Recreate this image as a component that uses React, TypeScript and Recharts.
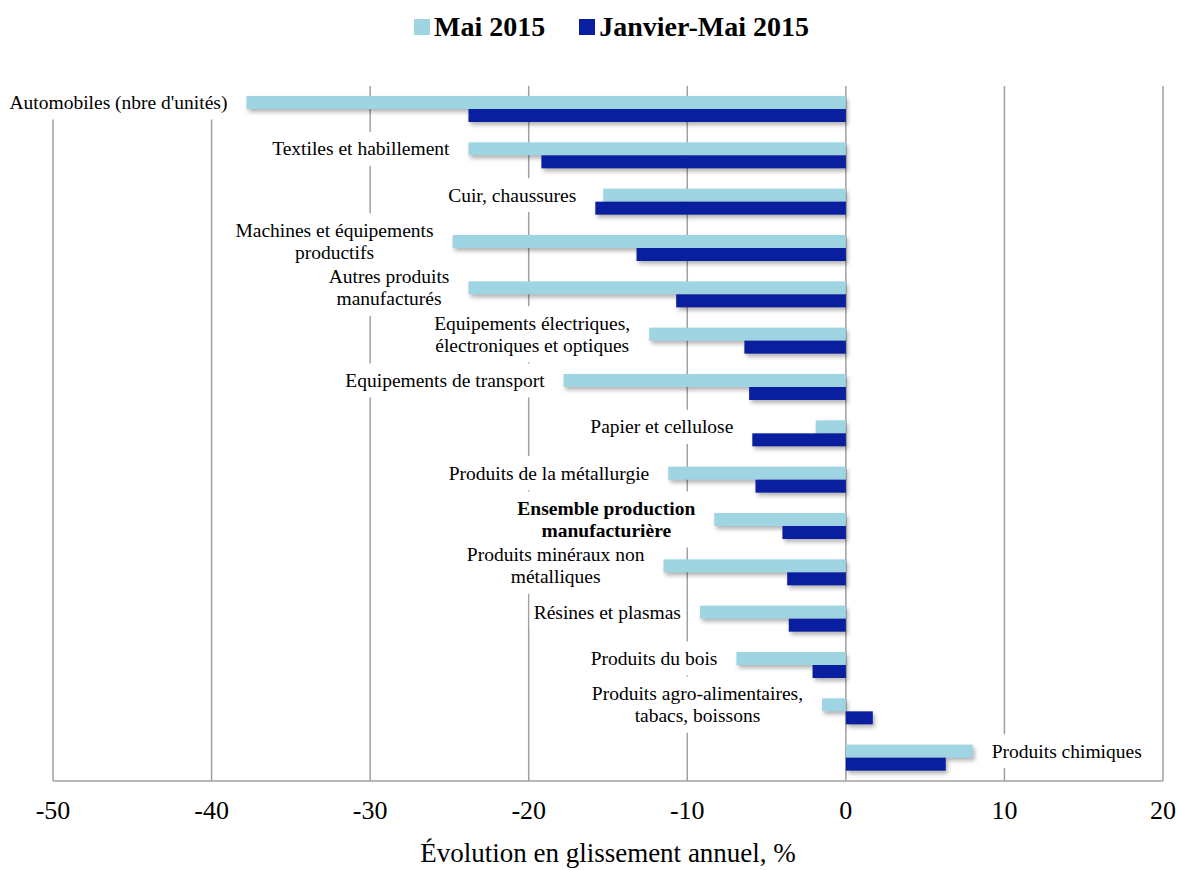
import React from "react";
import { BarChart, Bar, XAxis, YAxis, CartesianGrid, LabelList, Label } from "recharts";

const categories = [
  "Automobiles (nbre d'unités)",
  "Textiles et habillement",
  "Cuir, chaussures",
  "Machines et équipements\nproductifs",
  "Autres produits\nmanufacturés",
  "Equipements électriques,\nélectroniques et optiques",
  "Equipements de transport",
  "Papier et cellulose",
  "Produits de la métallurgie",
  "Ensemble production\nmanufacturière",
  "Produits minéraux non\nmétalliques",
  "Résines et plasmas",
  "Produits du bois",
  "Produits agro-alimentaires,\ntabacs, boissons",
  "Produits chimiques",
];
const maiValues = [-37.8, -23.8, -15.3, -24.8, -23.8, -12.4, -17.8, -1.9, -11.2, -8.3, -11.5, -9.2, -6.9, -1.5, 8.0];
const janMaiValues = [-23.8, -19.2, -15.8, -13.2, -10.7, -6.4, -6.1, -5.9, -5.7, -4.0, -3.7, -3.6, -2.1, 1.7, 6.3];
const xTicks = [-50, -40, -30, -20, -10, 0, 10, 20];
const boldCategory = "Ensemble production\nmanufacturière";

const data = categories.map((name, i) => ({ name, mai: maiValues[i], janMai: janMaiValues[i] }));

const FONT = '"Liberation Serif", "DejaVu Serif", serif';
const LIGHT = "#9fd5e3";
const DARK = "#0a1f9f";
const LABEL_SIZE = 19.5;
const LINE_H = 22;
const GAP = 19;

let ctx: CanvasRenderingContext2D | null = null;
const measure = (text: string, bold: boolean) => {
  if (!ctx) ctx = document.createElement("canvas").getContext("2d");
  if (!ctx) return text.length * 8;
  ctx.font = `${bold ? "bold " : ""}${LABEL_SIZE}px ${FONT}`;
  return ctx.measureText(text).width;
};

// category name drawn next to the end of the longest bar of its row
const CategoryLabel = (props: any) => {
  const { viewBox, value } = props;
  const row = data.find((d) => d.name === value);
  if (!row || !viewBox) return null;
  const { x, y, width, height } = viewBox;
  const x0 = Math.min(x, x + width);
  const x1 = Math.max(x, x + width);
  const zero = row.mai < 0 ? x1 : x0;
  const pxPerUnit = Math.abs(width) / Math.abs(row.mai);
  const lo = Math.min(0, row.mai, row.janMai);
  const hi = Math.max(0, row.mai, row.janMai);
  const leftSide = lo < 0;
  const bold = row.name === boldCategory;
  const lines = row.name.split("\n");
  const maxW = Math.max(...lines.map((l) => measure(l, bold)));
  const edge = leftSide ? zero + lo * pxPerUnit - GAP : zero + hi * pxPerUnit + GAP;
  const cx = leftSide ? edge - maxW / 2 : edge + maxW / 2;
  const cy = y + height / 2;
  const n = lines.length;
  return (
    <g>
      <rect x={cx - maxW / 2 - 4} y={cy - (n * LINE_H) / 2 - 6} width={maxW + 8} height={n * LINE_H + 12} fill="#fff" />
      {lines.map((l, i) => (
        <text
          key={i}
          x={cx}
          y={cy + (i - (n - 1) / 2) * LINE_H}
          textAnchor="middle"
          dominantBaseline="central"
          fontFamily={FONT}
          fontSize={LABEL_SIZE}
          fontWeight={bold ? "bold" : "normal"}
          fill="#000"
        >
          {l}
        </text>
      ))}
    </g>
  );
};

const ShadowBar = (props: any) => {
  const { x, y, width, height, fill } = props;
  return (
    <rect
      x={Math.min(x, x + width)}
      y={y}
      width={Math.abs(width)}
      height={height}
      fill={fill}
      style={{ filter: "drop-shadow(2px 3px 2px rgba(0,0,0,0.3))" }}
    />
  );
};

const legendItems = [
  { label: "Mai 2015", color: LIGHT },
  { label: "Janvier-Mai 2015", color: DARK },
];

export default function App() {
  return (
    <div style={{ position: "absolute", left: 0, top: 0, width: 1179, height: 870, background: "#fff" }}>
      <div
        style={{
          position: "absolute",
          top: 11,
          left: 22,
          width: 1179,
          display: "flex",
          justifyContent: "center",
          gap: 34,
          fontFamily: FONT,
          fontWeight: "bold",
          fontSize: 28,
          zIndex: 2,
        }}
      >
        {legendItems.map((it) => (
          <div key={it.label} style={{ display: "flex", alignItems: "center" }}>
            <span style={{ display: "inline-block", width: 16, height: 16, background: it.color, marginRight: 4 }} />
            <span>{it.label}</span>
          </div>
        ))}
      </div>
      <BarChart
        width={1179}
        height={870}
        data={data}
        layout="vertical"
        margin={{ top: 86, right: 16, bottom: 0, left: 53 }}
        barSize={13}
        barGap={0}
      >
        <CartesianGrid horizontal={false} stroke="#a0a0a0" strokeWidth={1.5} />
        <XAxis
          type="number"
          domain={[-50, 20]}
          ticks={xTicks}
          allowDataOverflow
          height={89}
          tickLine={false}
          tickSize={0}
          tickMargin={20}
          axisLine={{ stroke: "#a0a0a0", strokeWidth: 1.5 }}
          tick={{ fontFamily: FONT, fontSize: 26, fill: "#000" }}
        >
          <Label
            value="Évolution en glissement annuel, %"
            position="insideBottom"
            offset={8}
            style={{ fontFamily: FONT, fontSize: 27, fill: "#000" }}
          />
        </XAxis>
        <YAxis type="category" dataKey="name" hide />
        <Bar dataKey="mai" name="Mai 2015" fill={LIGHT} shape={ShadowBar} isAnimationActive={false}>
          <LabelList dataKey="name" content={CategoryLabel} />
        </Bar>
        <Bar dataKey="janMai" name="Janvier-Mai 2015" fill={DARK} shape={ShadowBar} isAnimationActive={false} />
      </BarChart>
    </div>
  );
}
